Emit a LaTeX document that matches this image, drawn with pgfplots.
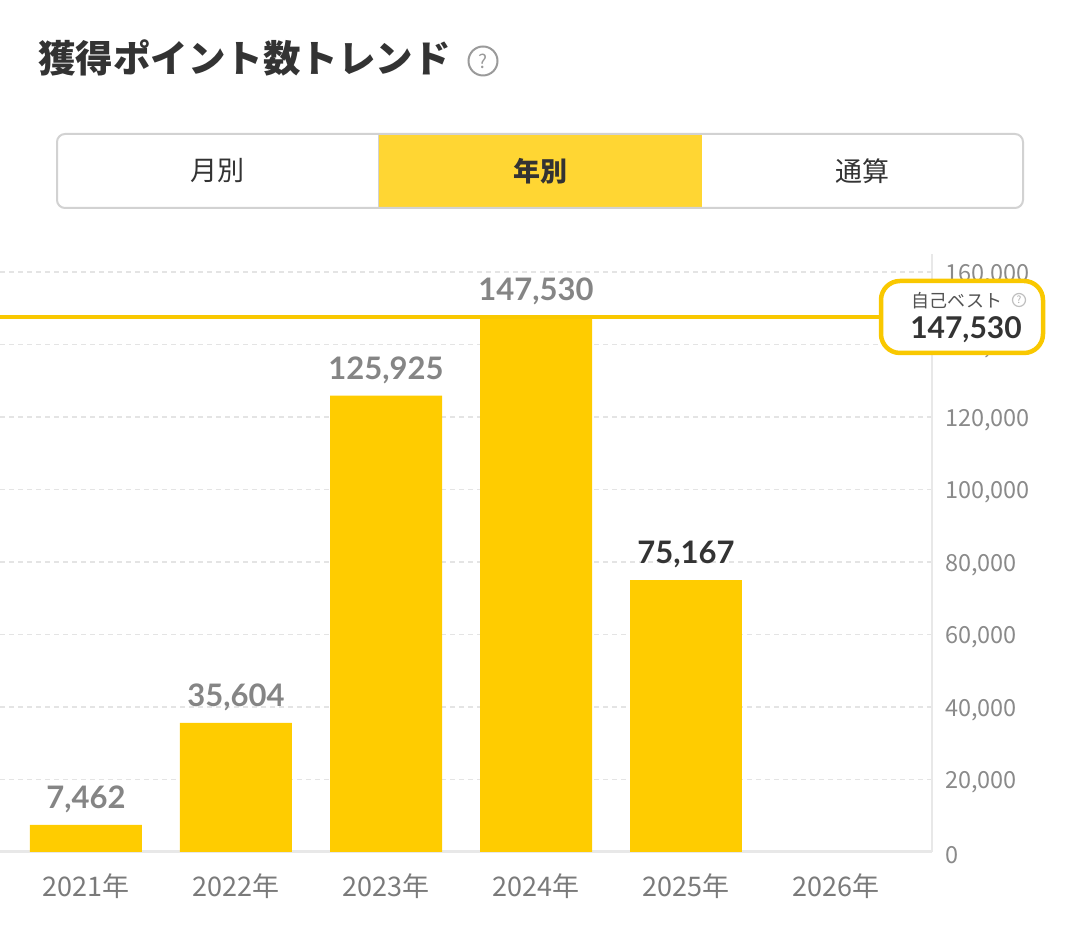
\documentclass[border=0pt]{standalone}
\usepackage{fontspec}
\setmainfont{Noto Sans CJK JP}
\newfontfamily\lato{Lato}
\usepackage{pgfplots}
\pgfplotsset{compat=1.18}
\definecolor{baryellow}{HTML}{FFCC00}
\definecolor{lineyellow}{HTML}{F9C800}
\definecolor{tabyellow}{HTML}{FFD633}
\definecolor{gridgray}{HTML}{E4E4E4}
\definecolor{axisgray}{HTML}{E8E8E8}
\definecolor{tickgray}{HTML}{8A8A8A}
\definecolor{xgray}{HTML}{7A7A7A}
\definecolor{valgray}{HTML}{858585}
\definecolor{dark}{HTML}{333333}
\definecolor{tabborder}{HTML}{D2D2D2}
\definecolor{icongray}{HTML}{9A9A9A}
\begin{document}
\begin{tikzpicture}[x=1pt,y=1pt]
\path[use as bounding box] (0,0) rectangle (1080,944);
% title
\node[anchor=west, inner sep=0pt, font=\bfseries\fontsize{37.5}{40}\selectfont, text=dark] at (38,886) {獲得ポイント数トレンド};
\draw[line width=2pt, draw=icongray] (483,883) circle (14.5);
\node[inner sep=0pt, font=\fontsize{19}{20}\selectfont, text=icongray] at (483,883) {?};
% tabs
\fill[white, rounded corners=8pt] (57,810) rectangle (1023,736);
\fill[tabyellow] (378,809) rectangle (702,737);
\draw[tabborder, line width=1pt] (378,809) -- (378,737);
\draw[tabborder, line width=2pt, rounded corners=8pt] (57,810) rectangle (1023,736);
\node[font=\fontsize{27}{30}\selectfont, text=dark] at (217,773) {月別};
\node[font=\bfseries\fontsize{27}{30}\selectfont, text=dark] at (540,773) {年別};
\node[font=\fontsize{27}{30}\selectfont, text=dark] at (862,773) {通算};
\begin{axis}[
  at={(0pt,92pt)}, anchor=south west,
  scale only axis, width=932pt, height=598.125pt,
  xmin=-0.5733, xmax=5.64,
  ymin=0, ymax=165000,
  clip=false,
  axis x line*=bottom, axis y line*=right,
  axis line style={-},
  x axis line style={-, draw=axisgray, line width=3pt},
  y axis line style={-, draw=axisgray, line width=2pt},
  xtick={0,1,2,3,4,5},
  xticklabels={2021年,2022年,2023年,2024年,2025年,2026年},
  ytick={0,20000,40000,60000,80000,100000,120000,140000,160000},
  major tick length=0pt,
  ymajorgrids,
  major grid style={draw=gridgray, line width=1.5pt, dash pattern=on 5pt off 4pt},
  scaled y ticks=false,
  /pgf/number format/fixed,
  /pgf/number format/precision=0,
  /pgf/number format/assume math mode=true,
  /pgf/number format/1000 sep={,},
  y tick label style={anchor=west, inner sep=0pt, xshift=13pt, yshift=-3pt, font=\fontsize{23.5}{26}\selectfont, text=tickgray},
  x tick label style={anchor=north, inner sep=0pt, yshift=-22pt, font=\fontsize{27}{30}\selectfont, text=xgray},
]
\addplot[ybar, bar width=112pt, bar shift=0pt, fill=baryellow, draw=none,
  nodes near coords,
  nodes near coords style={anchor=south, text depth=0pt, inner sep=0pt, yshift=16pt, font=\lato\bfseries\fontsize{31}{36}\selectfont, text=valgray}]
  coordinates {(0,7462) (1,35604) (2,125925) (3,147530)};
\addplot[ybar, bar width=112pt, bar shift=0pt, fill=baryellow, draw=none,
  nodes near coords,
  nodes near coords style={anchor=south, text depth=0pt, inner sep=0pt, yshift=16pt, font=\lato\bfseries\fontsize{31}{36}\selectfont, text=dark}]
  coordinates {(4,75167)};
\addplot[draw=lineyellow, line width=4pt, no marks, forget plot] coordinates {(-0.5733,147530) (5.3,147530)};
\end{axis}
% best box
\draw[draw=lineyellow, line width=4.5pt, fill=white, rounded corners=19pt] (881,663) rectangle (1043,591);
\node[inner sep=0pt, font=\fontsize{18}{20}\selectfont, text=dark!85] at (957,643) {自己ベスト};
\draw[line width=1.2pt, draw=gray!50] (1019,644) circle (6.5);
\node[inner sep=0pt, font=\fontsize{10}{10}\selectfont, text=gray!65] at (1019,644) {?};
\node[inner sep=0pt, font=\lato\bfseries\fontsize{30}{36}\selectfont, text=dark] at (966,614) {147,530};
\end{tikzpicture}
\end{document}
